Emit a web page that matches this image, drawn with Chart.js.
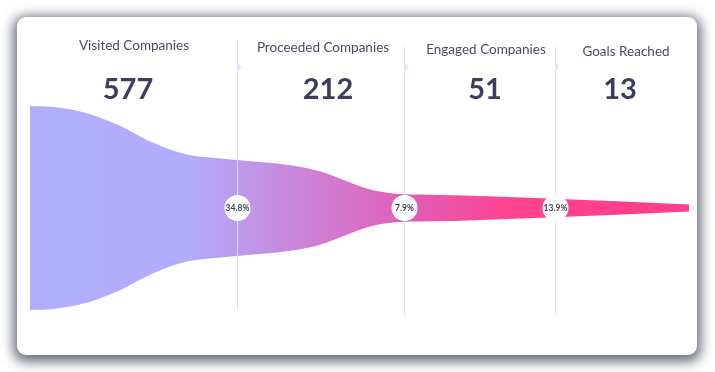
<!DOCTYPE html>
<html>
<head>
<meta charset="utf-8">
<script src="https://cdn.jsdelivr.net/npm/chart.js@4"></script>
<style>
  body { margin: 0; background: #fff; width: 715px; height: 372px; position: relative; overflow: hidden; font-family: Lato, "Open Sans", sans-serif; }
  .card { position: absolute; left: 17px; top: 17px; width: 680px; height: 338px; background: #fff; border-radius: 9px;
          box-shadow: 0 3px 12px 4px rgba(66, 72, 92, 0.78); }
  #funnel { position: absolute; left: 0; top: 0; }
  .head { position: absolute; transform: translate(-50%, -50%); white-space: nowrap; }
  .head.label { font-size: 13.5px; color: #4a4b63; }
  .head.value { font-size: 29px; font-weight: 700; color: #3c3e5b; }
</style>
</head>
<body>
<div class="card"></div>
<canvas id="funnel" width="715" height="372"></canvas>
<div id="heads"></div>
<script>
// Funnel stages
const stageLabels = ["Visited Companies", "Proceeded Companies", "Engaged Companies", "Goals Reached"];
const stageValues = [577, 212, 51, 13];
const conversionLabels = ["34.8%", "7.9%", "13.9%"];

// Stage edges along the funnel (0 - 100 of its length)
const stageEdges = [0, 31.4, 56.75, 79.7, 100];

// Funnel outline: position along the funnel and half thickness (100 = first stage)
const profileX = [0, 3.5, 8.6, 13.7, 18.7, 23.8, 27.3, 31.4, 39.5, 44.0, 48.1, 51.6, 54.2, 56.75, 59.2, 79.7, 100];
const profileHalf = [100, 99, 93, 80.5, 64, 52.5, 49.5, 47, 42, 36, 26.2, 18.1, 15, 13.5, 13.3, 9, 3.5];

// header text placement (page pixels)
const headX = [134, 323, 486, 626];
const labelY = [45, 47, 49, 51];
const valueX = [128, 328, 485, 620];

const heads = document.getElementById("heads");
stageLabels.forEach((name, i) => {
  const l = document.createElement("div");
  l.className = "head label";
  l.style.left = headX[i] + "px";
  l.style.top = labelY[i] + "px";
  l.textContent = name;
  heads.appendChild(l);
  const v = document.createElement("div");
  v.className = "head value";
  v.style.left = valueX[i] + "px";
  v.style.top = "87px";
  v.textContent = stageValues[i];
  heads.appendChild(v);
});

const upper = profileX.map((x, i) => ({ x, y: profileHalf[i] }));
const lower = profileX.map((x, i) => ({ x, y: -profileHalf[i] }));

function funnelGradient(context) {
  const { chart } = context;
  const area = chart.chartArea;
  if (!area) return "#b1acfd";
  const g = chart.ctx.createLinearGradient(area.left, 0, area.right, 0);
  g.addColorStop(0, "#b1adff");
  g.addColorStop(0.235, "#b1acfd");
  g.addColorStop(0.59, "#e35cb3");
  g.addColorStop(0.72, "#ff4390");
  g.addColorStop(1, "#ff3d8b");
  return g;
}

// dividers, little arrows and conversion badges
const stageMarks = {
  id: "stageMarks",
  afterDatasetsDraw(chart) {
    const { ctx, scales } = chart;
    const lineTop = [41, 47, 47];
    const lineBottom = [310, 317, 316];
    const cy = scales.y.getPixelForValue(0);
    ctx.save();
    for (let i = 1; i < stageEdges.length - 1; i++) {
      const px = Math.round(scales.x.getPixelForValue(stageEdges[i])) + 0.5;
      ctx.strokeStyle = "#e3e0f3";
      ctx.lineWidth = 1;
      ctx.beginPath();
      ctx.moveTo(px, lineTop[i - 1]);
      ctx.lineTo(px, lineBottom[i - 1]);
      ctx.stroke();

      // small arrow
      ctx.fillStyle = "#e8e5fa";
      ctx.beginPath();
      ctx.moveTo(px, 62);
      ctx.lineTo(px + 4, 67);
      ctx.lineTo(px, 72);
      ctx.closePath();
      ctx.fill();

      // badge
      ctx.fillStyle = "#fff";
      ctx.beginPath();
      ctx.arc(px, cy, 13, 0, Math.PI * 2);
      ctx.fill();
      ctx.fillStyle = "#3f4252";
      ctx.font = "bold 8.5px Lato, sans-serif";
      ctx.textAlign = "center";
      ctx.textBaseline = "middle";
      ctx.fillText(conversionLabels[i - 1], px, cy + 0.5);
    }
    ctx.restore();
  }
};

new Chart(document.getElementById("funnel"), {
  type: "line",
  data: {
    datasets: [
      {
        data: upper,
        borderWidth: 0,
        pointRadius: 0,
        fill: false,
        cubicInterpolationMode: "monotone"
      },
      {
        data: lower,
        borderWidth: 0,
        pointRadius: 0,
        fill: "-1",
        backgroundColor: funnelGradient,
        cubicInterpolationMode: "monotone"
      }
    ]
  },
  options: {
    responsive: false,
    animation: false,
    layout: { padding: { left: 30, right: 26, top: 106, bottom: 62 } },
    plugins: { legend: { display: false }, tooltip: { enabled: false } },
    scales: {
      x: { type: "linear", min: 0, max: 100, display: false },
      y: { min: -100, max: 100, display: false }
    }
  },
  plugins: [stageMarks]
});
</script>
</body>
</html>
